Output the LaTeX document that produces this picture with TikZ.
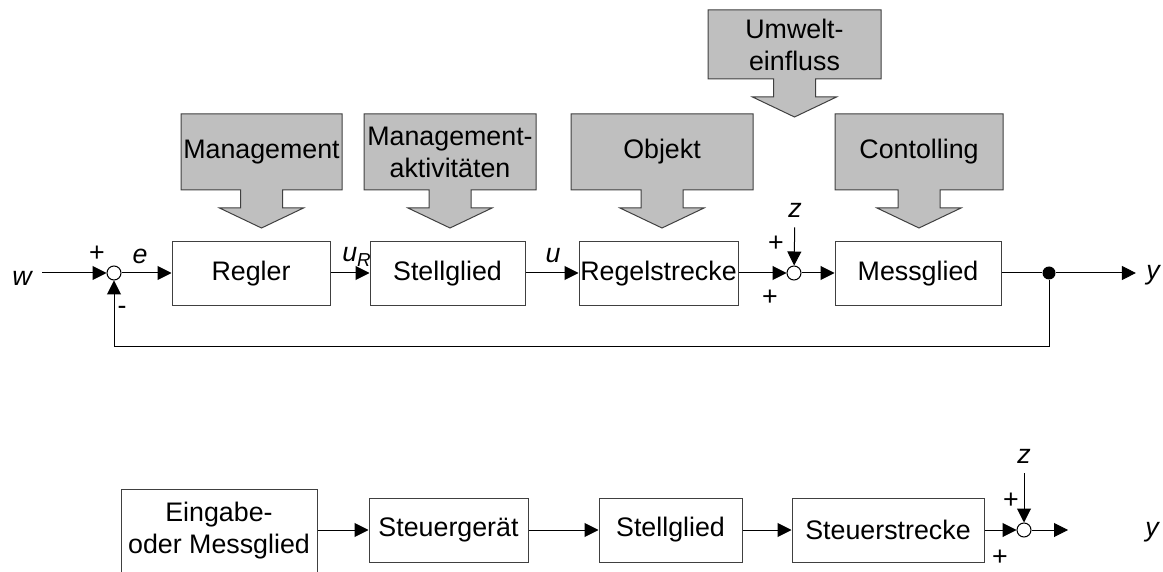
\documentclass[tikz,border=0pt]{standalone}
\usepackage{fontspec}
\setmainfont{Liberation Sans}
\usetikzlibrary{arrows.meta}

% grey box with a block arrow pointing down
\newcommand{\influence}[6]{%
  \draw[infl] (#2,#4) -- (#3,#4) -- (#3,#5) -- ({(#2+#3)/2+21},#5) -- ++(0,18)
    -- ++(21,0) -- ({(#2+#3)/2},#5+38) -- ({(#2+#3)/2-42},#5+18) -- ++(21,0)
    -- ++(0,-18) -- (#2,#5) -- cycle;
  \node[infltext] (#1) at ({(#2+#3)/2},{(#4+#5)/2}) {#6};}

\begin{document}
\begin{tikzpicture}[
    x=0.5pt, y=-0.5pt,
    every node/.style={font=\fontsize{13.4}{16}\selectfont},
    block/.style={draw=black!75, line width=0.5pt, fill=white,
        minimum width=#1*0.5pt, minimum height=32pt, inner sep=0pt, align=center},
    sum/.style={circle, draw, fill=white, line width=0.5pt,
        minimum size=7pt, inner sep=0pt},
    dot/.style={circle, fill, minimum size=6.5pt, inner sep=0pt},
    lbl/.style={inner sep=5pt, font=\fontsize{13.4}{16}\selectfont\itshape},
    sign/.style={inner sep=0pt},
    arr/.style={-{Triangle[length=7pt,width=7pt]}, line width=0.5pt},
    line/.style={line width=0.5pt},
    infl/.style={draw=black!75, fill=black!25, line width=0.5pt},
    infltext/.style={align=center, inner sep=0pt},
]
\useasboundingbox (0,0) rectangle (1163,572);

% influences
\influence{mgmt}{181}{342}{114}{190}{Management}
\influence{akt}{364}{536}{114}{190}{Management-\\aktivitäten}
\influence{obj}{571}{753}{114}{190}{Objekt}
\influence{contr}{835}{1003}{114}{190}{Contolling}
\influence{umwelt}{708}{881}{10}{79}{Umwelt-\\einfluss}

% control loop
\node[lbl] (w) at (22,278) {w};
\node[sum] (sum1) at (114,273) {};
\node[block=158] (regler) at (251,274) {Regler};
\node[block=155] (stell1) at (447.5,274) {Stellglied};
\node[block=159] (strecke) at (658.5,274) {Regelstrecke};
\node[sum] (sum2) at (794,273) {};
\node[block=166] (mess) at (918,274) {Messglied};
\node[dot] (dot) at (1049,273) {};
\node[lbl] (y1) at (1153,275) {y};
\node[lbl] (z1) at (795,210) {z};
\coordinate (fb) at (1049,347);

\node[lbl, inner sep=1pt] (e) at (140,256) {e};
\node[lbl, inner sep=1pt] (uR) at (357,257) {u\textsubscript{R}};
\node[lbl, inner sep=1pt] (u) at (553,256) {u};
\node[sign] (p1) at (97,254) {+};
\node[sign] (m1) at (122,310) {-};
\node[sign] (p2) at (776,244) {+};
\node[sign] (p3) at (770,298) {+};

\draw[arr] (w.east |- sum1) -- (sum1);
\draw[arr] (sum1) -- (regler.west |- sum1);
\draw[arr] (regler.east |- sum1) -- (stell1.west |- sum1);
\draw[arr] (stell1.east |- sum1) -- (strecke.west |- sum1);
\draw[arr] (strecke.east |- sum1) -- (sum2);
\draw[arr] (z1) -- (sum2);
\draw[arr] (sum2) -- (mess.west |- sum2);
\draw[line] (mess.east |- dot) -- (dot);
\draw[arr] (dot) -- (y1.west |- dot);
\draw[arr] (dot) -- (fb) -| (sum1);

% open loop control
\node[block=196, minimum height=42pt] (eingabe) at (219,531) {Eingabe-\\oder Messglied};
\node[block=159] (steuer) at (448.5,530) {Steuergerät};
\node[block=143] (stell2) at (670.5,530) {Stellglied};
\node[block=192] (strecke2) at (888,530) {Steuerstrecke};
\node[sum] (sum3) at (1024,530) {};
\coordinate (out2) at (1068,530);
\node[lbl] (y2) at (1152,532) {y};
\node[lbl] (z2) at (1024,456) {z};
\node[sign] (p4) at (1011,501) {+};
\node[sign] (p5) at (1000,558) {+};

\draw[arr] (eingabe.east |- steuer) -- (steuer);
\draw[arr] (steuer) -- (stell2);
\draw[arr] (stell2) -- (strecke2);
\draw[arr] (strecke2) -- (sum3);
\draw[arr] (z2) -- (sum3);
\draw[arr] (sum3) -- (out2);
\end{tikzpicture}
\end{document}
